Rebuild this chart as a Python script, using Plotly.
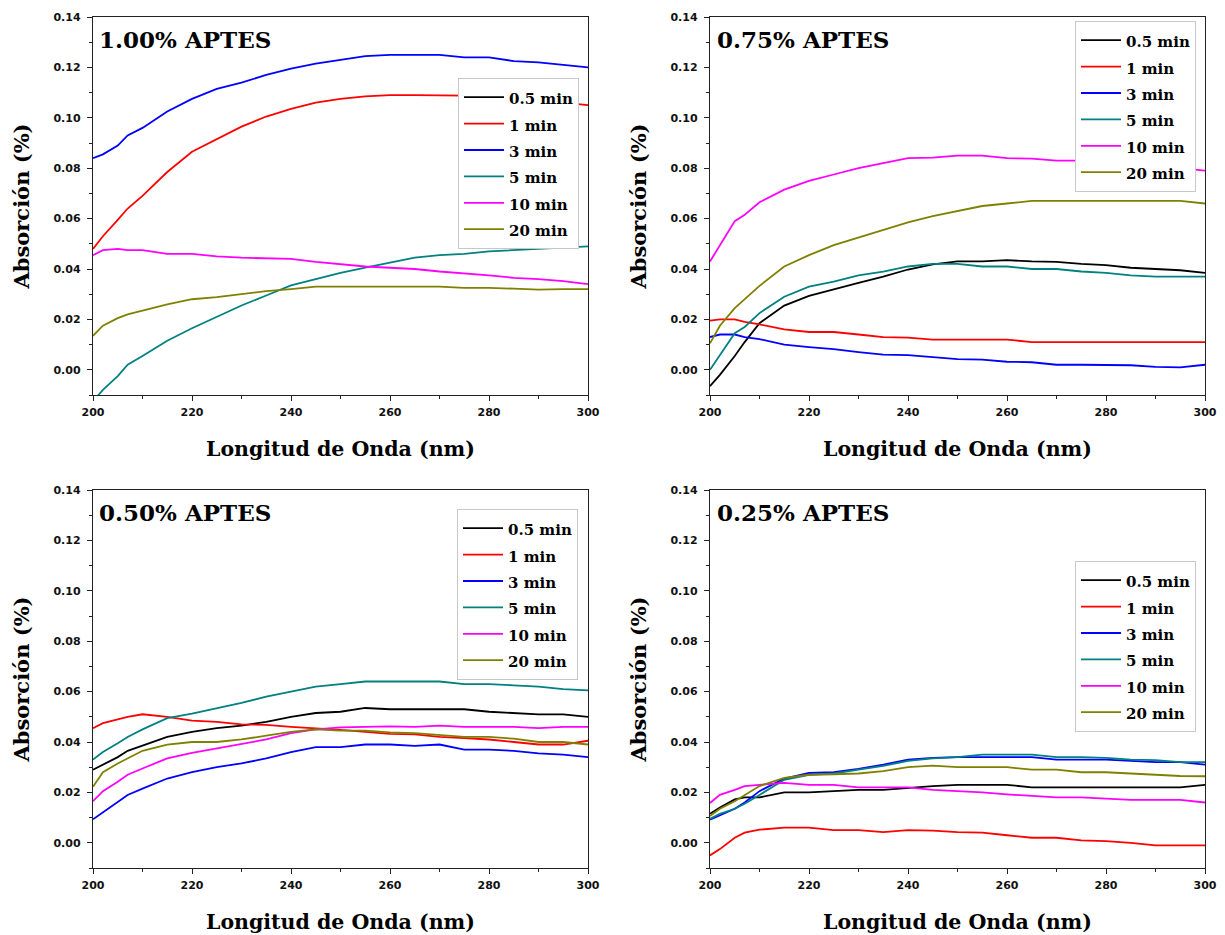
import plotly.graph_objects as go

# Wavelength grid (nm) shared by every spectrum
wavelength = [200, 202, 205, 207, 210, 215, 220, 225, 230, 235, 240, 245,
              250, 255, 260, 265, 270, 275, 280, 285, 290, 295, 300]

time_labels = ["0.5 min", "1 min", "3 min", "5 min", "10 min", "20 min"]
line_colors = ["#000000", "#FF0000", "#0000FF", "#008080", "#FF00FF", "#808000"]

panel_titles = ["1.00% APTES", "0.75% APTES", "0.50% APTES", "0.25% APTES"]

# ---- 1.00 % APTES ----  (0.5 min curve not drawn inside the plotted window)
aptes100_05 = [None]
aptes100_1 = [0.048, 0.053, 0.0595, 0.064, 0.069, 0.0785, 0.0865, 0.0915, 0.0965, 0.1005, 0.1035, 0.106,
              0.1075, 0.1085, 0.109, 0.109, 0.109, 0.1088, 0.1085, 0.108, 0.107, 0.106, 0.105]
aptes100_3 = [0.084, 0.0855, 0.089, 0.093, 0.096, 0.1025, 0.1075, 0.1115, 0.114, 0.117, 0.1195, 0.1215,
              0.123, 0.1245, 0.125, 0.125, 0.125, 0.124, 0.124, 0.1225, 0.122, 0.121, 0.120]
aptes100_5 = [-0.0125, -0.008, -0.0025, 0.002, 0.0055, 0.0115, 0.0165, 0.021, 0.0255, 0.0295, 0.0335, 0.036,
              0.0385, 0.0405, 0.0425, 0.0445, 0.0455, 0.046, 0.047, 0.0475, 0.048, 0.0485, 0.049]
aptes100_10 = [0.0455, 0.0475, 0.048, 0.0475, 0.0475, 0.046, 0.046, 0.045, 0.0445, 0.0442, 0.044, 0.0428,
               0.042, 0.041, 0.0405, 0.040, 0.039, 0.0383, 0.0375, 0.0365, 0.036, 0.0352, 0.034]
aptes100_20 = [0.0135, 0.0175, 0.0205, 0.022, 0.0235, 0.026, 0.028, 0.0288, 0.030, 0.0312, 0.032, 0.033,
               0.033, 0.033, 0.033, 0.033, 0.033, 0.0325, 0.0325, 0.0322, 0.0318, 0.032, 0.032]

# ---- 0.75 % APTES ----
aptes075_05 = [-0.0065, -0.002, 0.0055, 0.011, 0.0185, 0.0255, 0.0293, 0.032, 0.0345, 0.037, 0.0398, 0.0418,
               0.043, 0.043, 0.0435, 0.043, 0.0428, 0.042, 0.0415, 0.0405, 0.040, 0.0395, 0.0385]
aptes075_1 = [0.0195, 0.020, 0.020, 0.019, 0.018, 0.016, 0.015, 0.015, 0.014, 0.013, 0.0128, 0.012,
              0.012, 0.012, 0.012, 0.011, 0.011, 0.011, 0.011, 0.011, 0.011, 0.011, 0.011]
aptes075_3 = [0.013, 0.014, 0.014, 0.013, 0.0122, 0.010, 0.009, 0.0082, 0.007, 0.006, 0.0058, 0.005,
              0.0042, 0.004, 0.0032, 0.003, 0.002, 0.002, 0.002, 0.0018, 0.0012, 0.001, 0.002]
aptes075_5 = [0.000, 0.006, 0.0145, 0.017, 0.0225, 0.029, 0.033, 0.035, 0.0375, 0.039, 0.041, 0.042,
              0.042, 0.041, 0.041, 0.040, 0.040, 0.039, 0.0385, 0.0375, 0.037, 0.037, 0.037]
aptes075_10 = [0.043, 0.0495, 0.059, 0.0615, 0.0665, 0.0715, 0.075, 0.0775, 0.080, 0.082, 0.084, 0.0842,
               0.085, 0.085, 0.084, 0.0838, 0.083, 0.083, 0.0825, 0.082, 0.081, 0.080, 0.079]
aptes075_20 = [0.0105, 0.0175, 0.0245, 0.028, 0.0333, 0.041, 0.0455, 0.0495, 0.0525, 0.0555, 0.0585, 0.061,
               0.063, 0.065, 0.066, 0.067, 0.067, 0.067, 0.067, 0.067, 0.067, 0.067, 0.066]

# ---- 0.50 % APTES ----
aptes050_05 = [0.029, 0.031, 0.034, 0.0365, 0.0385, 0.042, 0.044, 0.0455, 0.0465, 0.048, 0.050, 0.0515,
               0.052, 0.0535, 0.053, 0.053, 0.053, 0.053, 0.052, 0.0515, 0.051, 0.051, 0.050]
aptes050_1 = [0.0455, 0.0475, 0.049, 0.050, 0.051, 0.050, 0.0485, 0.048, 0.047, 0.0468, 0.046, 0.0455,
              0.0448, 0.044, 0.0432, 0.043, 0.042, 0.0415, 0.041, 0.040, 0.039, 0.039, 0.0405]
aptes050_3 = [0.0093, 0.012, 0.0163, 0.019, 0.0215, 0.0255, 0.028, 0.030, 0.0315, 0.0335, 0.036, 0.038,
              0.038, 0.039, 0.039, 0.0385, 0.039, 0.037, 0.037, 0.0365, 0.0355, 0.035, 0.034]
aptes050_5 = [0.033, 0.036, 0.0395, 0.042, 0.045, 0.0495, 0.0513, 0.0533, 0.0555, 0.058, 0.060, 0.062,
              0.063, 0.064, 0.064, 0.064, 0.064, 0.063, 0.063, 0.0625, 0.062, 0.061, 0.0605]
aptes050_10 = [0.0165, 0.0205, 0.0242, 0.027, 0.0295, 0.0335, 0.0357, 0.0375, 0.039, 0.041, 0.0435, 0.045,
               0.0458, 0.046, 0.0462, 0.046, 0.0465, 0.046, 0.046, 0.046, 0.0455, 0.046, 0.046]
aptes050_20 = [0.0222, 0.028, 0.0315, 0.0335, 0.0365, 0.039, 0.040, 0.040, 0.041, 0.0425, 0.044, 0.045,
               0.0445, 0.0445, 0.0438, 0.0435, 0.0428, 0.042, 0.042, 0.0413, 0.040, 0.040, 0.039]

# ---- 0.25 % APTES ----
aptes025_05 = [0.0115, 0.014, 0.0172, 0.018, 0.018, 0.020, 0.020, 0.0205, 0.021, 0.021, 0.0218, 0.0225,
               0.023, 0.023, 0.023, 0.022, 0.022, 0.022, 0.022, 0.022, 0.022, 0.022, 0.023]
aptes025_1 = [-0.005, -0.0025, 0.002, 0.004, 0.0052, 0.006, 0.006, 0.005, 0.005, 0.0042, 0.005, 0.0048,
              0.0042, 0.004, 0.003, 0.002, 0.002, 0.001, 0.0007, 0.000, -0.001, -0.001, -0.001]
aptes025_3 = [0.0092, 0.011, 0.0135, 0.016, 0.0205, 0.0255, 0.0277, 0.028, 0.0293, 0.031, 0.033, 0.0337,
              0.034, 0.034, 0.034, 0.034, 0.033, 0.033, 0.033, 0.0325, 0.032, 0.032, 0.031]
aptes025_5 = [0.0095, 0.0115, 0.0135, 0.0155, 0.019, 0.025, 0.027, 0.0275, 0.029, 0.0305, 0.0325, 0.0335,
              0.034, 0.035, 0.035, 0.035, 0.034, 0.034, 0.0337, 0.033, 0.0328, 0.032, 0.032]
aptes025_10 = [0.0158, 0.019, 0.021, 0.0225, 0.023, 0.0238, 0.023, 0.023, 0.022, 0.022, 0.022, 0.021,
               0.0205, 0.020, 0.0192, 0.0185, 0.018, 0.018, 0.0175, 0.017, 0.017, 0.017, 0.016]
aptes025_20 = [0.0106, 0.0135, 0.0165, 0.019, 0.0225, 0.0258, 0.027, 0.0272, 0.0275, 0.0284, 0.030, 0.0306,
               0.030, 0.030, 0.030, 0.029, 0.029, 0.028, 0.028, 0.0275, 0.027, 0.0265, 0.0264]

panels = [
    [aptes100_05, aptes100_1, aptes100_3, aptes100_5, aptes100_10, aptes100_20],
    [aptes075_05, aptes075_1, aptes075_3, aptes075_5, aptes075_10, aptes075_20],
    [aptes050_05, aptes050_1, aptes050_3, aptes050_5, aptes050_10, aptes050_20],
    [aptes025_05, aptes025_1, aptes025_3, aptes025_5, aptes025_10, aptes025_20],
]

W, H = 1225, 935
SERIF = "DejaVu Serif"
SANS = "DejaVu Sans"

# plot-area boxes in pixels: (left, right, top, bottom)
boxes = [(93, 588, 17, 395), (710, 1205, 17, 395),
         (93, 588, 490, 868), (710, 1205, 490, 868)]
legend_pos = [(458, 78), (1075, 21), (457, 509), (1075, 561)]
title_pos = [(97, 40), (715, 40), (97, 512), (715, 512)]

fig = go.Figure()

for p, series in enumerate(panels):
    ax = "" if p == 0 else str(p + 1)
    leg = "legend" if p == 0 else f"legend{p + 1}"
    for name, color, ys in zip(time_labels, line_colors, series):
        fig.add_trace(go.Scatter(
            x=wavelength[:len(ys)], y=ys, mode="lines",
            name=f'<span style="font-size:15px">{name}</span>',
            line=dict(color=color, width=1.8),
            xaxis="x" + ax, yaxis="y" + ax, legend=leg, showlegend=True,
        ))

    left, right, top, bottom = boxes[p]
    axis_common = dict(
        showline=True, linecolor="#222222", linewidth=1.4, mirror=True,
        ticks="outside", ticklen=5, tickwidth=1.2, tickcolor="#222222",
        showgrid=False, zeroline=False, automargin=False,
        tickfont=dict(family=SANS, size=11, color="#111111", weight="bold"),
    )
    fig.layout["xaxis" + ax] = dict(
        axis_common, domain=[left / W, right / W], anchor="y" + ax,
        range=[200, 300], tickvals=[200, 220, 240, 260, 280, 300],
        minor=dict(tickvals=[210, 230, 250, 270, 290], ticklen=3, ticks="outside",
                   tickcolor="#222222", tickwidth=1.2),
        ticklabelstandoff=2,
        title=dict(text="Longitud de Onda (nm)", standoff=23,
                   font=dict(family=SERIF, size=20.5, color="black", weight="bold")),
    )
    fig.layout["yaxis" + ax] = dict(
        axis_common, domain=[1 - bottom / H, 1 - top / H], anchor="x" + ax,
        range=[-0.01, 0.14], tickvals=[0.0, 0.02, 0.04, 0.06, 0.08, 0.10, 0.12, 0.14],
        tickformat=".2f",
        minor=dict(tickvals=[-0.01, 0.01, 0.03, 0.05, 0.07, 0.09, 0.11, 0.13], ticklen=3,
                   ticks="outside", tickcolor="#222222", tickwidth=1.2),
        ticklabelstandoff=4,
        title=dict(text="Absorción (%)", standoff=18,
                   font=dict(family=SERIF, size=21, color="black", weight="bold")),
    )

    lx, ly = legend_pos[p]
    fig.layout[leg] = dict(
        x=lx / W, y=1 - ly / H, xanchor="left", yanchor="top",
        xref="paper", yref="paper",
        bgcolor="white", bordercolor="#c8c8c8", borderwidth=1,
        font=dict(family=SERIF, size=18, color="black", weight="bold"),
        tracegroupgap=0, itemwidth=40,
    )

    tx, ty = title_pos[p]
    fig.add_annotation(
        x=tx / W, y=1 - ty / H, xref="paper", yref="paper",
        xanchor="left", yanchor="middle", showarrow=False,
        text=panel_titles[p],
        font=dict(family=SERIF, size=23, color="black", weight="bold"),
    )

fig.update_layout(
    width=W, height=H, margin=dict(l=0, r=0, t=0, b=0),
    paper_bgcolor="white", plot_bgcolor="white", showlegend=True,
)

fig.write_html("out.html")
